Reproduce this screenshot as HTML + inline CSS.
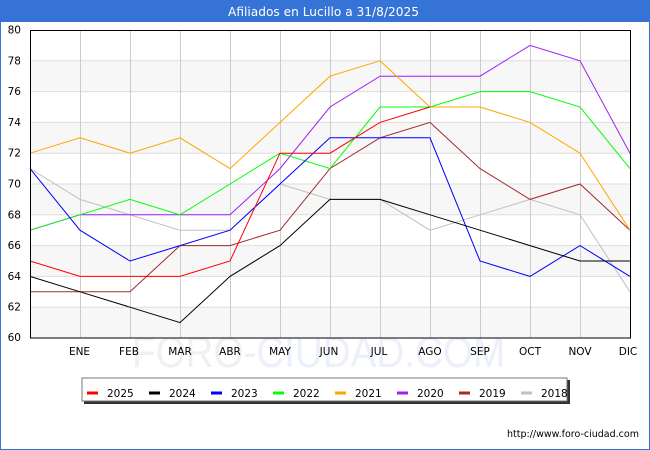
<!DOCTYPE html>
<html><head><meta charset="utf-8"><style>
html,body{margin:0;padding:0;background:#fff;}
svg{display:block;font-family:"DejaVu Sans","Liberation Sans",sans-serif;}
</style></head><body>
<svg width="650" height="450" viewBox="0 0 650 450" xmlns="http://www.w3.org/2000/svg">
<rect x="0" y="0" width="650" height="450" fill="#fff"/>
<rect x="0.5" y="0.5" width="649" height="449" fill="none" stroke="#3673d6" stroke-width="1"/>
<rect x="0" y="0" width="650" height="22" fill="#3673d6"/>
<text x="228" y="16" font-size="12.5" fill="#fff" textLength="191" lengthAdjust="spacingAndGlyphs">Afiliados en Lucillo a 31/8/2025</text>

<!-- watermark -->
<text x="132" y="367" font-size="44" textLength="373" lengthAdjust="spacingAndGlyphs" font-family="Liberation Sans, sans-serif"><tspan fill="#f0f0f0">FORO-</tspan><tspan fill="#eceffc">CIUDAD.COM</tspan></text>

<!-- bands -->
<g fill="#f7f7f7">
<rect x="30" y="60.8" width="600" height="30.8"/>
<rect x="30" y="122.4" width="600" height="30.8"/>
<rect x="30" y="184" width="600" height="30.8"/>
<rect x="30" y="245.6" width="600" height="30.8"/>
<rect x="30" y="307.2" width="600" height="30.8"/>
</g>
<g stroke="#dddddd" stroke-width="1">
<line x1="30" x2="630" y1="60.8" y2="60.8"/>
<line x1="30" x2="630" y1="91.6" y2="91.6"/>
<line x1="30" x2="630" y1="122.4" y2="122.4"/>
<line x1="30" x2="630" y1="153.2" y2="153.2"/>
<line x1="30" x2="630" y1="184" y2="184"/>
<line x1="30" x2="630" y1="214.8" y2="214.8"/>
<line x1="30" x2="630" y1="245.6" y2="245.6"/>
<line x1="30" x2="630" y1="276.4" y2="276.4"/>
<line x1="30" x2="630" y1="307.2" y2="307.2"/>
</g>
<g stroke="#cccccc" stroke-width="1">
<line x1="80.5" x2="80.5" y1="30" y2="338"/>
<line x1="130.5" x2="130.5" y1="30" y2="338"/>
<line x1="180.5" x2="180.5" y1="30" y2="338"/>
<line x1="230.5" x2="230.5" y1="30" y2="338"/>
<line x1="280.5" x2="280.5" y1="30" y2="338"/>
<line x1="330.5" x2="330.5" y1="30" y2="338"/>
<line x1="380.5" x2="380.5" y1="30" y2="338"/>
<line x1="430.5" x2="430.5" y1="30" y2="338"/>
<line x1="480.5" x2="480.5" y1="30" y2="338"/>
<line x1="530.5" x2="530.5" y1="30" y2="338"/>
<line x1="580.5" x2="580.5" y1="30" y2="338"/>
</g>

<!-- series -->
<g transform="translate(30,1262) scale(50,-15.4)" fill="none" stroke-width="1">
<polyline vector-effect="non-scaling-stroke" stroke="#c0c0c0" points="0,71 1,69 2,68 3,67 4,67 5,70 6,69 7,69 8,67 9,68 10,69 11,68 12,63"/>
<polyline vector-effect="non-scaling-stroke" stroke="#a52a2a" points="0,63 1,63 2,63 3,66 4,66 5,67 6,71 7,73 8,74 9,71 10,69 11,70 12,67"/>
<polyline vector-effect="non-scaling-stroke" stroke="#a020f0" points="0,67 1,68 2,68 3,68 4,68 5,71 6,75 7,77 8,77 9,77 10,79 11,78 12,72"/>
<polyline vector-effect="non-scaling-stroke" stroke="#ffa500" points="0,72 1,73 2,72 3,73 4,71 5,74 6,77 7,78 8,75 9,75 10,74 11,72 12,67"/>
<polyline vector-effect="non-scaling-stroke" stroke="#00ff00" points="0,67 1,68 2,69 3,68 4,70 5,72 6,71 7,75 8,75 9,76 10,76 11,75 12,71"/>
<polyline vector-effect="non-scaling-stroke" stroke="#0000ff" points="0,71 1,67 2,65 3,66 4,67 5,70 6,73 7,73 8,73 9,65 10,64 11,66 12,64"/>
<polyline vector-effect="non-scaling-stroke" stroke="#000000" points="0,64 1,63 2,62 3,61 4,64 5,66 6,69 7,69 8,68 9,67 10,66 11,65 12,65"/>
<polyline vector-effect="non-scaling-stroke" stroke="#ff0000" points="0,65 1,64 2,64 3,64 4,65 5,72 6,72 7,74 8,75"/>
</g>

<!-- axes frame -->
<rect x="30.5" y="30.5" width="600" height="307.5" fill="none" stroke="#000" stroke-width="1"/>

<!-- y labels -->
<g font-size="10.5" fill="#000" text-anchor="end">
<text x="21" y="33.5">80</text>
<text x="21" y="64.3">78</text>
<text x="21" y="95.1">76</text>
<text x="21" y="125.9">74</text>
<text x="21" y="156.7">72</text>
<text x="21" y="187.5">70</text>
<text x="21" y="218.3">68</text>
<text x="21" y="249.1">66</text>
<text x="21" y="279.9">64</text>
<text x="21" y="310.5">62</text>
<text x="21" y="341">60</text>
</g>
<!-- x labels -->
<g font-size="10.5" fill="#000" text-anchor="middle">
<text x="79.5" y="355">ENE</text>
<text x="129" y="355">FEB</text>
<text x="180" y="355">MAR</text>
<text x="230" y="355">ABR</text>
<text x="280" y="355">MAY</text>
<text x="329" y="355">JUN</text>
<text x="379" y="355">JUL</text>
<text x="430" y="355">AGO</text>
<text x="480" y="355">SEP</text>
<text x="530" y="355">OCT</text>
<text x="580" y="355">NOV</text>
<text x="628" y="355">DIC</text>
</g>

<!-- legend -->
<rect x="84" y="380" width="486" height="24" fill="#333"/>
<rect x="82" y="378" width="485" height="23" fill="#fff" stroke="#777" stroke-width="1"/>
<g stroke-width="3">
<line x1="87" x2="98" y1="393" y2="393" stroke="#ff0000"/>
<line x1="149" x2="160" y1="393" y2="393" stroke="#000000"/>
<line x1="211" x2="222" y1="393" y2="393" stroke="#0000ff"/>
<line x1="273" x2="284" y1="393" y2="393" stroke="#00ff00"/>
<line x1="335" x2="346" y1="393" y2="393" stroke="#ffa500"/>
<line x1="397" x2="408" y1="393" y2="393" stroke="#a020f0"/>
<line x1="459" x2="470" y1="393" y2="393" stroke="#a52a2a"/>
<line x1="521" x2="532" y1="393" y2="393" stroke="#c0c0c0"/>
</g>
<g font-size="10.5" fill="#000">
<text x="107" y="397">2025</text>
<text x="169" y="397">2024</text>
<text x="231" y="397">2023</text>
<text x="293" y="397">2022</text>
<text x="355" y="397">2021</text>
<text x="417" y="397">2020</text>
<text x="479" y="397">2019</text>
<text x="541" y="397">2018</text>
</g>

<text x="507" y="437" font-size="10" fill="#000" textLength="132" lengthAdjust="spacingAndGlyphs">http://www.foro-ciudad.com</text>
</svg>
</body></html>
